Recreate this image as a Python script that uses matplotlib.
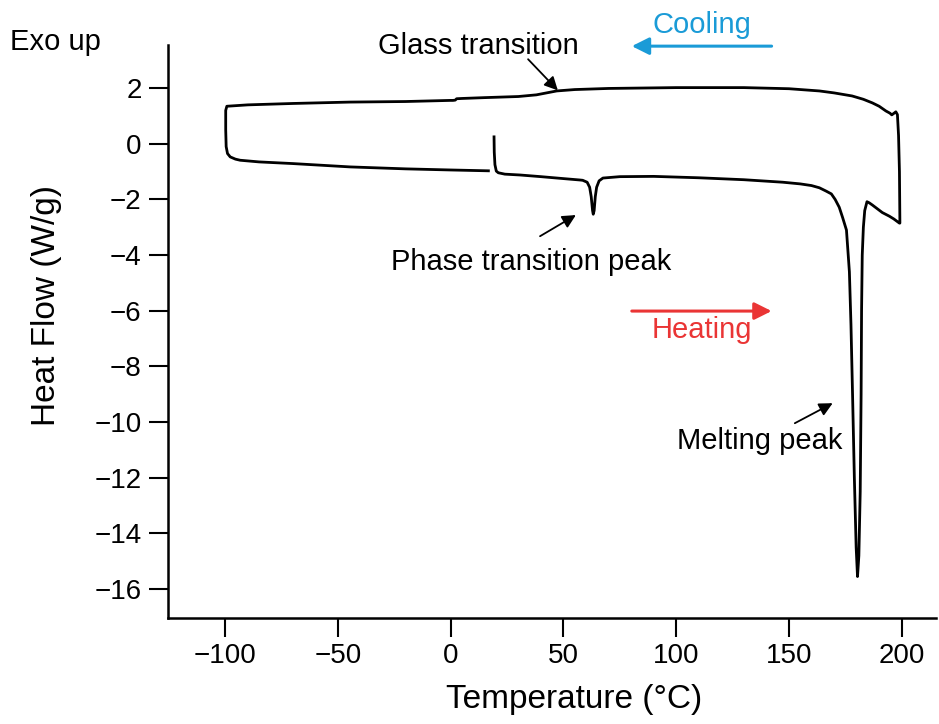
import numpy as np
import matplotlib
matplotlib.use('Agg')
import matplotlib.pyplot as plt

plt.rcParams['font.family'] = ['Liberation Sans', 'DejaVu Sans']

# DSC trace: heat from ~20 C to 200 C, cool to -100 C, heat again to ~17 C
temp = [19.2, 19.3, 19.6, 20.2, 21.1, 24, 30.7, 40, 50, 57.3, 58.5, 60.5, 61.6, 62.3, 62.9, 63.2,
        63.6, 64.1, 64.7, 65.8, 67.5, 75, 90, 110, 130, 147.3, 155, 160, 163.5, 166.5, 168.8,
        170.5, 172.3, 173.8, 175.5, 176.8, 177.5, 178.2, 179.0, 179.8, 180.4, 181.0, 181.6, 182.0,
        182.2, 182.5, 183.0, 183.6, 184.6, 185.6, 187, 191.4, 194.5, 196.5, 199.0,
        199.2, 199.0, 198.6, 198.1, 197.4, 196.6, 195.6, 194.8, 193, 190, 187, 183, 178, 170,
        163.5, 150, 130, 100, 70, 55, 47, 42.5, 38, 30, 15, 5, 2.6, 2.0, 1.0, -0.3, -20, -44.7,
        -70, -90, -99.3, -99.8, -99.8, -99.6, -99.0, -97.8, -95.5, -93.4, -85, -70, -44.6, -20,
        0, 16.7]
heat_flow = [0.25, -0.3, -0.75, -0.98, -1.04, -1.09, -1.12, -1.18, -1.25, -1.3, -1.31, -1.38,
             -1.56, -1.9, -2.4, -2.53, -2.4, -1.9, -1.56, -1.33, -1.23, -1.18, -1.17, -1.22, -1.29,
             -1.38, -1.44, -1.5, -1.58, -1.7, -1.8, -2.0, -2.28, -2.65, -3.1, -4.6, -6.5, -9.0,
             -12.0, -14.5, -15.55, -14.8, -12.5, -9.0, -6.0, -4.0, -3.0, -2.4, -2.08, -2.12, -2.2,
             -2.47, -2.6, -2.7, -2.85,
             -2.85, -1.0, 0.3, 1.05, 1.15, 1.1, 1.04, 1.1, 1.18, 1.35, 1.47, 1.6, 1.72, 1.83,
             1.9, 1.98, 2.02, 2.02, 1.99, 1.95, 1.9, 1.83, 1.76, 1.7, 1.66, 1.63, 1.62, 1.57,
             1.56, 1.56, 1.52, 1.5, 1.45, 1.4, 1.35, 1.2, 0.5, -0.1, -0.35, -0.47, -0.55, -0.59,
             -0.65, -0.71, -0.83, -0.9, -0.94, -0.97]

x_ticks = [-100, -50, 0, 50, 100, 150, 200]
y_ticks = [-16, -14, -12, -10, -8, -6, -4, -2, 0, 2]

fig = plt.figure(figsize=(9.39, 7.24), dpi=100)
ax = fig.add_axes([0.1789, 0.1464, 0.8174, 0.7914])

ax.plot(temp, heat_flow, color='black', lw=2.0, solid_joinstyle='round')

ax.set_xlim(-125.4, 215.0)
ax.set_ylim(-17.04, 3.55)
ax.set_xticks(x_ticks)
ax.set_yticks(y_ticks)
ax.spines['top'].set_visible(False)
ax.spines['right'].set_visible(False)
for s in ['left', 'bottom']:
    ax.spines[s].set_linewidth(1.8)
ax.tick_params(direction='out', length=14, width=1.5, labelsize=20, pad=4)
ax.tick_params(axis='y', pad=5)

ax.set_xlabel('Temperature (°C)', fontsize=24)
ax.set_ylabel('Heat Flow (W/g)', fontsize=24)
ax.xaxis.set_label_coords(0.529, -0.115)
ax.yaxis.set_label_coords(-0.138, 0.545)

fig.text(10 / 939, 1 - 42 / 724, 'Exo up', fontsize=21, va='center', ha='left')

# annotations
small_arrow = dict(arrowstyle='-|>', mutation_scale=20, lw=1.3, color='black',
                   shrinkA=0, shrinkB=0)
ax.annotate('', xy=(47.5, 1.92), xytext=(34.3, 3.04), arrowprops=small_arrow,
            annotation_clip=False)
ax.text(12.1, 3.51, 'Glass transition', fontsize=21, ha='center', va='center', clip_on=False)

ax.annotate('', xy=(55.5, -2.56), xytext=(39.6, -3.32), arrowprops=small_arrow)
ax.text(35.6, -4.25, 'Phase transition peak', fontsize=21, ha='center', va='center')

ax.annotate('', xy=(169.4, -9.32), xytext=(152.6, -10.04), arrowprops=small_arrow)
ax.text(137.0, -10.68, 'Melting peak', fontsize=21, ha='center', va='center')

blue = '#1a9bd7'
red = '#ea3535'
ax.annotate('', xy=(80.3, 3.51), xytext=(142.3, 3.51),
            arrowprops=dict(arrowstyle='-|>', mutation_scale=26, lw=2.2, color=blue,
                            shrinkA=0, shrinkB=0), annotation_clip=False)
ax.text(111.4, 4.27, 'Cooling', fontsize=21, color=blue, ha='center', va='center',
        clip_on=False)

ax.annotate('', xy=(142.3, -6.01), xytext=(80.3, -6.01),
            arrowprops=dict(arrowstyle='-|>', mutation_scale=26, lw=2.2, color=red,
                            shrinkA=0, shrinkB=0))
ax.text(111.2, -6.69, 'Heating', fontsize=21, color=red, ha='center', va='center')

fig.savefig('out.png', dpi=100)
